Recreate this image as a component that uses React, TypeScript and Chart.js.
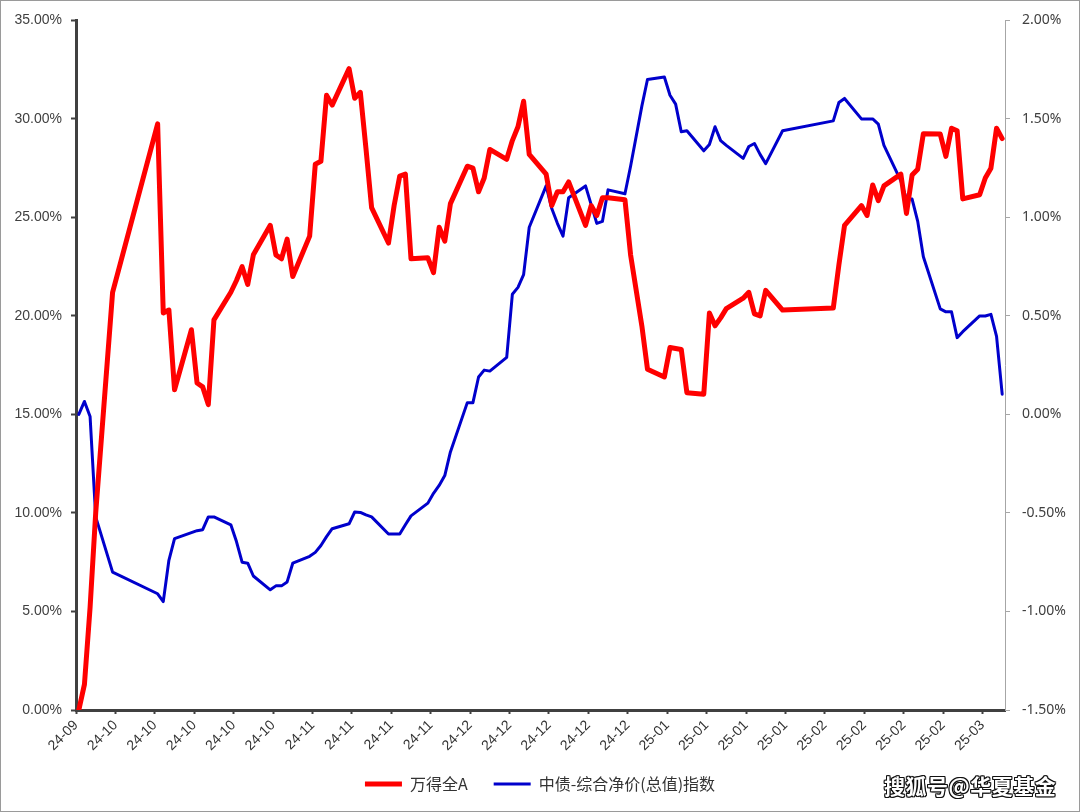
import React, { useEffect, useRef } from 'react';
import { Chart, registerables } from 'chart.js';

Chart.register(...registerables);

// Trading days (x positions come from the dates through a linear day axis)
const tradeDates = [
  '2024-09-24', '2024-09-25', '2024-09-26', '2024-09-27', '2024-09-30',
  '2024-10-08', '2024-10-09', '2024-10-10', '2024-10-11', '2024-10-14',
  '2024-10-15', '2024-10-16', '2024-10-17', '2024-10-18', '2024-10-21',
  '2024-10-22', '2024-10-23', '2024-10-24', '2024-10-25', '2024-10-28',
  '2024-10-29', '2024-10-30', '2024-10-31', '2024-11-01', '2024-11-04',
  '2024-11-05', '2024-11-06', '2024-11-07', '2024-11-08', '2024-11-11',
  '2024-11-12', '2024-11-13', '2024-11-14', '2024-11-15', '2024-11-18',
  '2024-11-19', '2024-11-20', '2024-11-21', '2024-11-22', '2024-11-25',
  '2024-11-26', '2024-11-27', '2024-11-28', '2024-11-29', '2024-12-02',
  '2024-12-03', '2024-12-04', '2024-12-05', '2024-12-06', '2024-12-09',
  '2024-12-10', '2024-12-11', '2024-12-12', '2024-12-13', '2024-12-16',
  '2024-12-17', '2024-12-18', '2024-12-19', '2024-12-20', '2024-12-23',
  '2024-12-24', '2024-12-25', '2024-12-26', '2024-12-27', '2024-12-30',
  '2024-12-31', '2025-01-02', '2025-01-03', '2025-01-06', '2025-01-07',
  '2025-01-08', '2025-01-09', '2025-01-10', '2025-01-13', '2025-01-14',
  '2025-01-15', '2025-01-16', '2025-01-17', '2025-01-20', '2025-01-21',
  '2025-01-22', '2025-01-23', '2025-01-24', '2025-01-27', '2025-02-05',
  '2025-02-06', '2025-02-07', '2025-02-10', '2025-02-11', '2025-02-12',
  '2025-02-13', '2025-02-14', '2025-02-17', '2025-02-18', '2025-02-19',
  '2025-02-20', '2025-02-21', '2025-02-24', '2025-02-25', '2025-02-26',
  '2025-02-27', '2025-02-28', '2025-03-03', '2025-03-04', '2025-03-05',
  '2025-03-06', '2025-03-07',
];

// 万得全A cumulative return (%), left axis
const windAllA = [
  0, 1.3, 5.2, 10.0, 21.2,
  29.75, 20.15, 20.3, 16.25, 19.3,
  16.6, 16.4, 15.5, 19.8, 21.2,
  21.8, 22.5, 21.6, 23.1, 24.6,
  23.1, 22.9, 23.9, 22.0, 24.05,
  27.7, 27.85, 31.2, 30.7, 32.55,
  31.05, 31.35, 28.5, 25.5, 23.7,
  25.6, 27.1, 27.2, 22.9, 22.95,
  22.2, 24.5, 23.8, 25.7, 27.6,
  27.5, 26.3, 27.0, 28.45, 27.95,
  28.9, 29.6, 30.9, 28.2, 27.2,
  25.6, 26.3, 26.3, 26.8, 24.6,
  25.6, 25.1, 26.0, 26.0, 25.9,
  23.1, 19.5, 17.3, 16.9, 18.4,
  18.35, 18.3, 16.1, 16.03, 20.15,
  19.5, 19.9, 20.37, 20.9, 21.2,
  20.1, 20.0, 21.3, 20.3, 20.4,
  22.6, 24.6, 25.6, 25.1, 26.65,
  25.85, 26.6, 27.2, 25.2, 27.15,
  27.45, 29.25, 29.23, 28.1, 29.53,
  29.4, 25.94, 26.15, 27.0, 27.5,
  29.53, 29.0,
];

// 中债-综合净价(总值)指数 cumulative return (%), right axis
const bondIndex = [
  0.0, 0.066, -0.01, -0.52, -0.8,
  -0.91, -0.95, -0.74, -0.63, -0.6,
  -0.59, -0.585, -0.52, -0.52, -0.56,
  -0.645, -0.75, -0.755, -0.82, -0.89,
  -0.87, -0.87, -0.85, -0.755, -0.72,
  -0.7, -0.665, -0.62, -0.58, -0.555,
  -0.495, -0.497, -0.51, -0.52, -0.607,
  -0.607, -0.607, -0.56, -0.515, -0.45,
  -0.4, -0.36, -0.31, -0.19, 0.06,
  0.06, 0.19, 0.225, 0.22, 0.29,
  0.61, 0.645, 0.71, 0.95, 1.16,
  1.045, 0.97, 0.905, 1.1, 1.16,
  1.065, 0.97, 0.98, 1.14, 1.12,
  1.26, 1.565, 1.7, 1.713, 1.62,
  1.575, 1.435, 1.44, 1.338, 1.37,
  1.46, 1.39, 1.366, 1.3, 1.36,
  1.375, 1.32, 1.273, 1.44, 1.49,
  1.583, 1.604, 1.5, 1.5, 1.5,
  1.474, 1.366, 1.186, 1.093, 1.093,
  0.98, 0.8, 0.536, 0.521, 0.521,
  0.39, 0.42, 0.5, 0.5, 0.508,
  0.396, 0.103,
];

// Weekly x-axis tick labels (every 7 days from 2024-09-24)
const xTickLabels = [
  '24-09', '24-10', '24-10', '24-10', '24-10', '24-10',
  '24-11', '24-11', '24-11', '24-11',
  '24-12', '24-12', '24-12', '24-12', '24-12',
  '25-01', '25-01', '25-01', '25-01',
  '25-02', '25-02', '25-02', '25-02',
  '25-03',
];

const seriesNames = ['万得全A', '中债-综合净价(总值)指数'];

const BASE = Date.UTC(2024, 8, 24);
const dayOf = (s: string) => {
  const [y, m, d] = s.split('-').map(Number);
  return Math.round((Date.UTC(y, m - 1, d) - BASE) / 86400000) + 0.5;
};

export default function App() {
  const ref = useRef<HTMLCanvasElement | null>(null);

  useEffect(() => {
    if (!ref.current) return;
    const axisDark = '#404040';
    const axisGray = '#a6a6a6';
    const chart = new Chart(ref.current, {
      type: 'line',
      data: {
        datasets: [
          {
            label: seriesNames[0],
            data: tradeDates.map((d, i) => ({ x: dayOf(d), y: windAllA[i] })),
            borderColor: '#ff0000',
            backgroundColor: '#ff0000',
            borderWidth: 5,
            pointRadius: 0,
            tension: 0,
            yAxisID: 'y',
            borderJoinStyle: 'round',
            borderCapStyle: 'round',
          },
          {
            label: seriesNames[1],
            data: tradeDates.map((d, i) => ({ x: dayOf(d), y: bondIndex[i] })),
            borderColor: '#0000cc',
            backgroundColor: '#0000cc',
            borderWidth: 3,
            pointRadius: 0,
            tension: 0,
            yAxisID: 'y1',
            borderJoinStyle: 'round',
            borderCapStyle: 'round',
          },
        ],
      },
      options: {
        animation: false,
        responsive: false,
        events: [],
        layout: { padding: { left: 0, right: 0, top: 20, bottom: 10 } },
        plugins: {
          tooltip: { enabled: false },
          legend: {
            display: true,
            position: 'bottom',
            labels: {
              usePointStyle: true,
              pointStyle: 'line',
              pointStyleWidth: 37,
              padding: 10,
              color: '#333333',
              font: { family: '"Noto Sans CJK SC", sans-serif', size: 16 },
              generateLabels: (c: any) => {
                const items = (Chart as any).defaults.plugins.legend.labels.generateLabels(c);
                if (items[0]) items[0].text = items[0].text + '\u3000';
                return items;
              },
            },
          },
        },
        scales: {
          x: {
            type: 'linear',
            min: 0,
            max: 165,
            afterBuildTicks: (s: any) => {
              s.ticks = xTickLabels.map((_, i) => ({ value: i * 7 }));
            },
            afterFit: (s: any) => {
              s.height = 56;
            },
            ticks: {
              autoSkip: false,
              minRotation: 45,
              maxRotation: 45,
              padding: 3,
              color: '#333333',
              font: { family: '"Liberation Sans", Arial, sans-serif', size: 14 },
              callback: (_v: any, i: number) => xTickLabels[i],
            },
            grid: {
              display: true,
              drawOnChartArea: false,
              drawTicks: true,
              tickLength: 4,
              tickWidth: 2,
              tickColor: axisDark,
              color: axisDark,
            },
            border: { display: true, width: 3, color: axisDark },
          },
          y: {
            type: 'linear',
            position: 'left',
            min: 0,
            max: 35,
            afterFit: (s: any) => {
              s.width = 76;
            },
            ticks: {
              stepSize: 5,
              padding: 9,
              color: axisDark,
              font: { family: '"Liberation Sans", Arial, sans-serif', size: 14 },
              callback: (v: any) => Number(v).toFixed(2) + '%',
            },
            grid: {
              display: true,
              drawOnChartArea: false,
              drawTicks: true,
              tickLength: 5,
              tickWidth: 2,
              tickColor: axisDark,
              color: axisDark,
            },
            border: { display: true, width: 3, color: axisDark },
          },
          y1: {
            type: 'linear',
            position: 'right',
            min: -1.5,
            max: 2,
            afterFit: (s: any) => {
              s.width = 75;
            },
            ticks: {
              stepSize: 0.5,
              padding: 12,
              color: axisDark,
              font: { family: '"Noto Sans", sans-serif', size: 14 },
              callback: (v: any) => Number(v).toFixed(2) + '%',
            },
            grid: {
              display: true,
              drawOnChartArea: false,
              drawTicks: true,
              tickLength: 5,
              tickWidth: 1,
              tickColor: axisGray,
              color: axisGray,
            },
            border: { display: true, width: 1, color: axisGray },
          },
        },
      },
    } as any);
    return () => chart.destroy();
  }, []);

  return (
    <div
      style={{
        position: 'absolute',
        left: 0,
        top: 0,
        width: 1080,
        height: 812,
        background: '#ffffff',
        overflow: 'hidden',
      }}
    >
      <canvas
        ref={ref}
        width={1080}
        height={812}
        style={{ position: 'absolute', left: 0, top: 0, width: 1080, height: 812 }}
      />
      <div
        style={{
          position: 'absolute',
          left: 0,
          top: 0,
          width: 1080,
          height: 812,
          boxSizing: 'border-box',
          border: '1px solid #9a9a9a',
          pointerEvents: 'none',
        }}
      />
      <div
        style={{
          position: 'absolute',
          left: 884,
          top: 771,
          fontFamily: '"Noto Sans CJK SC", sans-serif',
          fontWeight: 700,
          fontSize: 21,
          lineHeight: '28px',
          color: '#ffffff',
          letterSpacing: 0.5,
          textShadow:
            '1px 1px 0 #111, -1px -1px 0 #111, 1px -1px 0 #111, -1px 1px 0 #111, 0 1px 0 #111, 1px 0 0 #111, 0 -1px 0 #111, -1px 0 0 #111',
          whiteSpace: 'nowrap',
        }}
      >
        搜狐号@华夏基金
      </div>
    </div>
  );
}
